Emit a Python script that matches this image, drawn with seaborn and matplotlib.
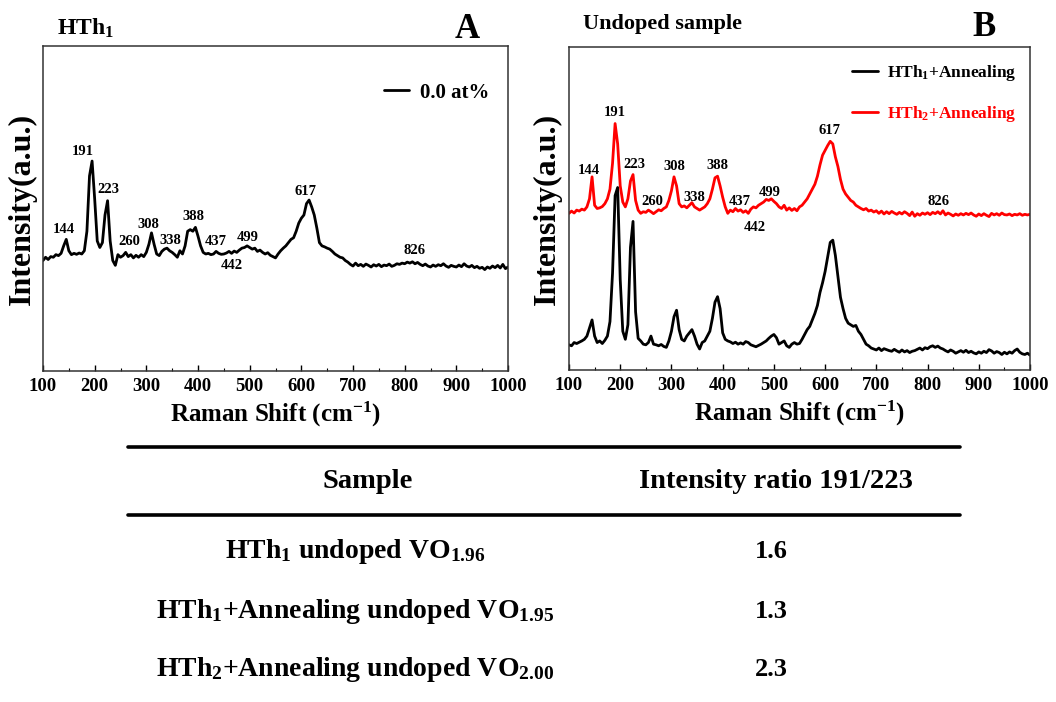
import numpy as np
import pandas as pd
import matplotlib
matplotlib.use("Agg")
import matplotlib.pyplot as plt
from matplotlib.ticker import MultipleLocator
import seaborn as sns

# ---------------- data ----------------
raman_shift = np.arange(100, 1001, 5)

hth1_asprep = [
    34.0, 35.0, 34.3, 35.2, 35.0, 35.8, 35.5, 36.2, 38.5, 40.5,
    37.0, 35.8, 36.2, 35.9, 36.3, 36.0, 37.0, 43.0, 60.0, 64.6,
    53.0, 40.0, 38.0, 39.5, 48.0, 52.4, 40.0, 34.0, 32.5, 35.8,
    35.0, 35.5, 36.5, 35.2, 35.8, 34.8, 35.6, 35.0, 35.8, 35.2,
    36.5, 39.0, 42.5, 39.0, 36.0, 35.5, 36.8, 37.5, 37.8, 37.0,
    36.5, 35.8, 35.0, 37.0, 36.0, 38.5, 43.0, 43.5, 43.0, 44.2,
    41.5, 38.5, 36.5, 36.0, 36.2, 35.8, 36.0, 36.8, 36.2, 35.9,
    36.0, 36.3, 36.8, 36.2, 36.9, 36.5, 37.2, 37.8, 38.0, 38.5,
    38.0, 37.5, 37.8, 36.8, 37.2, 36.5, 36.0, 36.4, 35.6, 35.2,
    34.8, 36.0, 37.0, 37.8, 38.5, 39.5, 40.5, 41.0, 43.0, 45.5,
    47.0, 48.0, 51.5, 52.6, 50.5, 48.0, 44.0, 39.5, 38.5, 38.2,
    37.8, 37.5, 36.8, 36.0, 35.5, 35.0, 34.8, 34.0, 33.5, 32.8,
    32.3, 33.2, 32.4, 32.8, 32.2, 32.9, 32.5, 32.0, 32.7, 32.3,
    32.8, 32.1, 32.6, 32.4, 32.9, 32.2, 32.5, 33.0, 32.8, 33.2,
    33.0, 33.5, 33.2, 33.6, 33.0, 33.4, 32.8, 32.4, 32.9, 32.3,
    32.0, 32.6, 32.2, 32.7, 32.4, 33.0, 32.3, 31.9, 32.5, 32.2,
    32.0, 32.6, 32.1, 33.0, 32.3, 32.0, 32.5, 31.8, 32.2, 31.6,
    31.9, 31.2, 32.0, 31.6, 32.3, 31.8, 32.5, 31.7, 32.8, 31.5,
    32.0,
]

hth1_annealed = [
    7.8, 7.5, 8.5, 8.2, 8.6, 9.0, 9.5, 10.5, 13.0, 15.5,
    10.5, 8.5, 9.0, 8.2, 9.2, 10.5, 15.0, 30.0, 54.0, 56.5,
    28.0, 12.0, 9.5, 14.0, 38.0, 46.0, 18.0, 9.8, 9.0, 8.0,
    7.8, 8.5, 10.5, 8.0, 7.8, 7.5, 7.9, 7.3, 7.0, 9.0,
    12.0, 16.5, 18.5, 12.5, 9.5, 9.0, 10.5, 11.5, 12.5, 10.5,
    8.0, 6.5, 8.5, 9.0, 10.5, 12.0, 16.0, 21.0, 22.7, 19.0,
    11.5, 9.5, 9.0, 8.7, 8.2, 8.6, 8.0, 8.4, 8.0, 8.8,
    8.5, 7.8, 7.5, 7.2, 7.6, 8.0, 8.5, 9.0, 9.8, 10.5,
    11.0, 10.0, 8.0, 8.5, 9.0, 7.5, 7.0, 8.0, 8.5, 8.0,
    8.2, 9.5, 11.0, 12.5, 13.5, 15.5, 17.5, 20.0, 24.0, 27.0,
    30.5, 35.0, 39.5, 40.2, 35.5, 29.0, 22.5, 19.0, 16.0, 14.5,
    14.0, 13.5, 13.8, 12.0, 11.0, 9.5, 8.0, 7.5, 6.8, 6.5,
    6.2, 6.8, 6.0, 6.6, 6.3, 6.0, 5.8, 6.4, 5.9, 5.5,
    6.2, 5.6, 6.0, 5.4, 5.8, 6.0, 6.4, 6.8, 6.2, 6.9,
    6.6, 7.2, 7.5, 7.0, 7.4, 6.8, 6.5, 6.0, 5.6, 6.2,
    5.8, 5.2, 5.6, 6.0, 5.5, 6.1, 5.4, 5.8, 5.3, 5.0,
    5.6, 5.2, 5.8, 5.4, 6.3, 5.9, 5.2, 5.7, 5.4, 4.8,
    5.5, 5.0, 5.6, 5.2, 6.0, 6.5, 5.5, 5.0, 4.8, 5.2,
    4.6,
]

hth2_annealed = [
    48.5, 49.2, 48.6, 49.5, 49.2, 49.8, 49.5, 50.5, 53.0, 59.8,
    51.0, 50.0, 50.2, 50.6, 51.5, 53.0, 56.0, 64.0, 76.3, 70.0,
    57.0, 52.0, 50.5, 53.0, 58.5, 60.5, 52.5, 49.5, 48.5, 49.0,
    48.8, 49.5, 49.0, 48.4, 49.0, 49.6, 49.3, 50.0, 50.5, 52.5,
    55.5, 59.8, 57.0, 51.5, 50.5, 50.8, 50.2, 51.0, 51.8, 50.5,
    50.0, 49.5, 50.0, 50.5, 51.5, 53.0, 56.0, 59.5, 60.0, 57.0,
    53.5, 50.5, 48.5, 49.5, 49.0, 50.0, 49.2, 49.6, 48.8, 49.3,
    48.5, 49.8, 50.5, 50.2, 51.0, 51.5, 52.0, 52.8, 52.5, 53.0,
    52.2, 51.5, 50.5, 50.0, 51.0, 49.5, 50.2, 49.4, 50.0, 49.3,
    50.5, 51.0, 52.0, 53.0, 54.5, 56.0, 57.5, 60.0, 63.5, 66.5,
    68.0, 69.5, 70.8, 70.0, 66.0, 63.0, 59.0, 56.0, 54.5, 53.5,
    52.5, 52.0, 51.0, 50.5, 50.0, 49.6, 50.0, 49.2, 49.5, 48.9,
    49.3, 48.5, 49.2, 48.3, 49.0, 48.4, 49.1, 48.6, 48.2, 48.8,
    48.3, 49.0, 48.5, 47.8, 48.9, 47.6, 48.4, 47.9, 48.6, 48.2,
    48.7, 48.1, 48.8, 48.4, 49.0, 48.3, 49.3, 48.0, 48.6, 48.2,
    47.7, 48.3, 47.9, 48.4, 48.0, 48.5, 48.1, 48.6, 48.0, 47.6,
    48.3, 47.8, 48.4, 47.9, 47.5, 48.5, 48.0, 48.4, 47.9, 48.6,
    48.1, 48.0, 48.3, 47.8, 48.2, 48.0, 48.4, 47.9, 48.2, 48.0,
    48.2,
]

# peak labels (text, x, y) for each panel
peak_labels = ["144", "191", "223", "260", "308", "338", "388", "437", "442", "499", "617", "826"]
peak_x_a = [140.6, 177.4, 225.8, 266.5, 303.2, 345.8, 390.3, 434.8, 465.8, 496.8, 609.0, 820.0]
peak_y_a = [43.4, 67.4, 55.7, 39.7, 45.2, 40.3, 47.4, 39.7, 32.6, 41.2, 55.1, 37.2]
peak_x_b = [139.0, 189.8, 226.9, 263.4, 305.0, 344.6, 390.3, 432.5, 461.8, 492.4, 607.6, 821.0]
peak_y_b = [61.9, 79.6, 63.5, 52.1, 62.9, 53.5, 63.3, 52.3, 44.2, 54.9, 74.0, 52.3]

xticks = list(range(100, 1001, 100))

table_samples = [
    r"HTh$_{1}$ undoped VO$_{1.96}$",
    r"HTh$_{1}$+Annealing undoped VO$_{1.95}$",
    r"HTh$_{2}$+Annealing undoped VO$_{2.00}$",
]
table_ratios = ["1.6", "1.3", "2.3"]
table_headers = ["Sample", "Intensity ratio 191/223"]

# ---------------- style ----------------
sns.set_theme(style="ticks")
plt.rcParams["font.family"] = ["Liberation Serif", "DejaVu Serif"]
plt.rcParams["font.weight"] = "bold"
plt.rcParams["text.color"] = "black"
plt.rcParams["axes.labelcolor"] = "black"
plt.rcParams["xtick.color"] = "black"
plt.rcParams["ytick.color"] = "black"
plt.rcParams["mathtext.fontset"] = "custom"
plt.rcParams["mathtext.rm"] = "Liberation Serif:bold"
plt.rcParams["mathtext.it"] = "Liberation Serif:bold"
plt.rcParams["mathtext.bf"] = "Liberation Serif:bold"
plt.rcParams["mathtext.default"] = "rm"

W, H = 1056, 702
fig = plt.figure(figsize=(W / 100, H / 100), dpi=100)


def rect(l, t, r, b):
    return [l / W, 1 - b / H, (r - l) / W, (b - t) / H]


ax_a = fig.add_axes(rect(43, 46, 508, 371))
ax_b = fig.add_axes(rect(569, 47, 1030, 370))

df_a = pd.DataFrame({"shift": raman_shift, "intensity": hth1_asprep})
df_b1 = pd.DataFrame({"shift": raman_shift, "intensity": hth1_annealed})
df_b2 = pd.DataFrame({"shift": raman_shift, "intensity": hth2_annealed})

sns.lineplot(data=df_a, x="shift", y="intensity", ax=ax_a, color="black",
             lw=2.0, label="0.0 at%")
sns.lineplot(data=df_b1, x="shift", y="intensity", ax=ax_b, color="black",
             lw=2.0, label=r"HTh$_{1}$+Annealing")
sns.lineplot(data=df_b2, x="shift", y="intensity", ax=ax_b, color="#ff0000",
             lw=2.0, label=r"HTh$_{2}$+Annealing")

for ax, px, py in [(ax_a, peak_x_a, peak_y_a), (ax_b, peak_x_b, peak_y_b)]:
    ax.set_xlim(100, 1000)
    ax.set_ylim(0, 100)
    ax.set_yticks([])
    ax.set_xticks(xticks)
    ax.xaxis.set_minor_locator(MultipleLocator(50))
    ax.tick_params(axis="x", which="major", direction="in", length=4, width=1,
                   labelsize=13.5, pad=5)
    ax.tick_params(axis="x", which="minor", direction="in", length=2.5, width=0.8)
    for lbl in ax.get_xticklabels():
        lbl.set_fontweight("bold")
    for s in ax.spines.values():
        s.set_linewidth(1.1)
        s.set_color("#333333")
    ax.set_xlabel(r"Raman Shift (cm$^{-1}$)", fontsize=18, fontweight="bold")
    ax.xaxis.set_label_coords(0.5, -0.09)
    ax.set_ylabel("Intensity(a.u.)", fontsize=23, fontweight="bold")
    for t, x, y in zip(peak_labels, px, py):
        ax.text(x, y, t, ha="center", va="center", fontsize=10.5, fontweight="bold")

ax_a.yaxis.set_label_coords(-0.014, 0.5)
ax_b.yaxis.set_label_coords(-0.016, 0.5)

leg_a = ax_a.legend(loc="upper right", frameon=False, fontsize=15,
                    handlelength=1.2, handletextpad=0.5,
                    bbox_to_anchor=(1.0, 0.945))
leg_b = ax_b.legend(loc="upper right", frameon=False, fontsize=12.5,
                    handlelength=1.5, handletextpad=0.55, labelspacing=1.25,
                    labelcolor="linecolor", bbox_to_anchor=(1.005, 1.0))

# panel titles
def ftext(x, y, s, **kw):
    fig.text(x / W, 1 - y / H, s, **kw)

ftext(57, 28, r"HTh$_{1}$", fontsize=17, fontweight="bold", ha="left", va="center")
ftext(467, 30, "A", fontsize=25, fontweight="bold", ha="center", va="center")
ftext(583, 24, "Undoped sample", fontsize=16, fontweight="bold", ha="left", va="center")
ftext(984, 27, "B", fontsize=25, fontweight="bold", ha="center", va="center")

# table
ax_t = fig.add_axes([0, 0, 1, 1], zorder=-1)
ax_t.set_xlim(0, W)
ax_t.set_ylim(H, 0)
ax_t.axis("off")
ax_t.plot([128, 960], [447, 447], color="black", lw=2.6)
ax_t.plot([128, 960], [515, 515], color="black", lw=2.6)
ax_t.text(368, 482, table_headers[0], ha="center", va="center", fontsize=20.5, fontweight="bold")
ax_t.text(776, 482, table_headers[1], ha="center", va="center", fontsize=20.5, fontweight="bold")
for i, (s, r) in enumerate(zip(table_samples, table_ratios)):
    y = [551, 611, 670][i]
    ax_t.text(355, y, s, ha="center", va="center", fontsize=20, fontweight="bold")
    ax_t.text(771, y, r, ha="center", va="center", fontsize=19, fontweight="bold")

fig.savefig("out.png", dpi=100)
